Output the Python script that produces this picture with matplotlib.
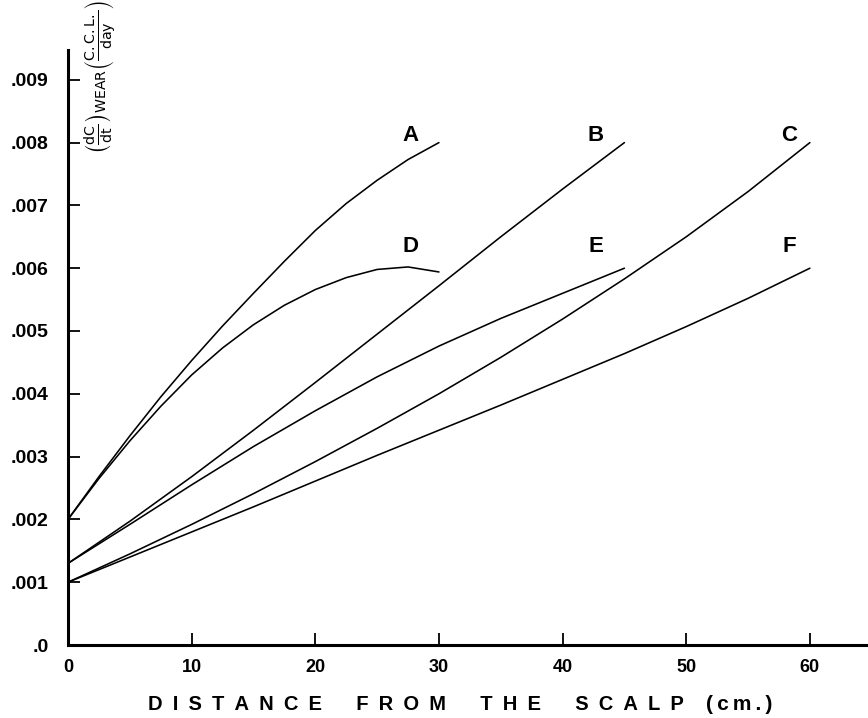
import matplotlib
matplotlib.use("Agg")
import matplotlib.pyplot as plt

plt.rcParams['font.family'] = ['Liberation Sans', 'DejaVu Sans']

# ---- data ----
x_A = [0, 2.5, 5, 7.5, 10, 12.5, 15, 17.5, 20, 22.5, 25, 27.5, 30]
y_A = [.0020, .00268, .00333, .00395, .00453, .00508, .00560, .00611, .00660, .00703, .00740, .00773, .0080]

x_D = [0, 2.5, 5, 7.5, 10, 12.5, 15, 17.5, 20, 22.5, 25, 27.5, 30]
y_D = [.0020, .00265, .00325, .00380, .00430, .00473, .00510, .00541, .00566, .00585, .00598, .00602, .00594]

x_B = [0, 5, 10, 15, 20, 25, 30, 35, 40, 45]
y_B = [.0013, .00197, .00268, .00342, .00418, .00495, .00572, .00650, .00726, .0080]

x_E = [0, 5, 10, 15, 20, 25, 30, 35, 40, 45]
y_E = [.0013, .00192, .00255, .00316, .00373, .00427, .00476, .00520, .00560, .0060]

x_C = [0, 5, 10, 15, 20, 25, 30, 35, 40, 45, 50, 55, 60]
y_C = [.0010, .00145, .00192, .00241, .00292, .00345, .00400, .00458, .00519, .00583, .00650, .00722, .0080]

x_F = [0, 5, 10, 15, 20, 25, 30, 35, 40, 45, 50, 55, 60]
y_F = [.0010, .00140, .00180, .00220, .00261, .00302, .00342, .00382, .00423, .00464, .00507, .00552, .0060]

curve_names = ['A', 'B', 'C', 'D', 'E', 'F']
label_x = [27.7, 42.7, 58.3, 27.7, 42.7, 58.3]
label_y = [.00812, .00812, .00812, .00634, .00634, .00634]

x_ticks = [0, 10, 20, 30, 40, 50, 60]
x_tick_labels = ['0', '10', '20', '30', '40', '50', '60']
y_ticks = [0, .001, .002, .003, .004, .005, .006, .007, .008, .009]
y_tick_labels = ['.0', '.001', '.002', '.003', '.004', '.005', '.006', '.007', '.008', '.009']

xlabel_words = ['DISTANCE', 'FROM', 'THE', 'SCALP']
xlabel_unit = '(cm.)'

# ---- figure ----
fig = plt.figure(figsize=(8.68, 7.18), dpi=100)
ax = fig.add_axes([68/868, 73/718, 1 - 68/868, 595/718])

for xs, ys in [(x_A, y_A), (x_D, y_D), (x_B, y_B), (x_E, y_E), (x_C, y_C), (x_F, y_F)]:
    ax.plot(xs, ys, color='black', lw=1.15, solid_capstyle='round', solid_joinstyle='round')

for name, lx, ly in zip(curve_names, label_x, label_y):
    ax.text(lx, ly, name, ha='center', va='center', fontsize=16, fontweight='bold')

ax.set_xlim(0, 64.7)
ax.set_ylim(0, 595/62800)

for s in ['top', 'right']:
    ax.spines[s].set_visible(False)
for s in ['left', 'bottom']:
    ax.spines[s].set_linewidth(2.2)

ax.set_xticks(x_ticks)
ax.set_xticklabels(x_tick_labels, fontsize=13, fontweight='bold')
ax.set_yticks(y_ticks)
ax.set_yticklabels(y_tick_labels, fontsize=14, fontweight='bold')
ax.tick_params(axis='x', direction='in', length=9, width=1.3, pad=10)
ax.tick_params(axis='y', direction='in', length=8.5, width=1.3, pad=14)

sp = '\u2002'
gap = '\u2003\u2002\u2009'
xlabel_text = gap.join(sp.join(w) for w in xlabel_words)
fig.text(148/868, 1 - 705/718, xlabel_text,
         ha='left', va='center', fontsize=14.5, fontweight='bold')
fig.text(706/868, 1 - 705/718, '(\u2009c\u2009m\u2009.\u2009)',
         ha='left', va='center', fontsize=15, fontweight='bold')

fig.text(100/868, 1 - 77/718,
         r'$\left(\frac{\mathrm{dC}}{\mathrm{dt}}\right)_{\mathrm{WEAR}}\left(\frac{\mathrm{C.C.L.}}{\mathrm{day}}\right)$',
         rotation=90, ha='center', va='center', fontsize=14.5)

fig.savefig('out.png', dpi=100)
